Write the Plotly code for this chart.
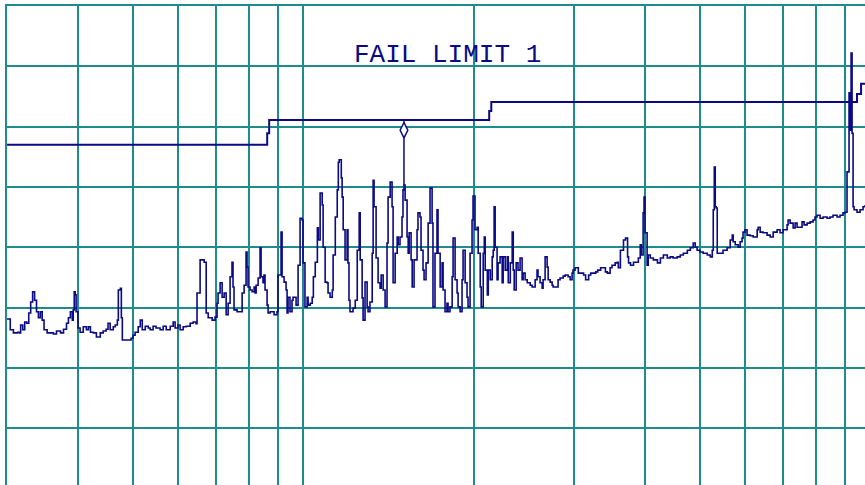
import plotly.graph_objects as go

freq_mhz = [
    30.0, 30.40, 30.79, 31.32, 31.58, 31.71, 31.98, 32.24, 32.50, 32.77, 33.03, 33.29, 33.56, 33.82,
    34.08, 34.35, 34.61, 34.87, 35.31, 35.77, 36.22, 36.68, 37.29, 37.74, 38.20, 38.50, 38.81, 39.11,
    39.26, 39.42, 39.57, 39.72, 40.03, 40.37, 40.89, 41.41, 41.75, 42.10, 42.61, 43.13, 43.82, 44.34,
    44.86, 45.22, 45.61, 46.19, 46.57, 46.96, 47.15, 47.54, 47.73, 47.92, 48.50, 49.08, 49.66, 50.04,
    50.47, 51.11, 51.54, 51.96, 52.60, 53.24, 53.66, 54.30, 54.94, 55.87, 56.57, 57.27, 58.21, 58.91,
    59.37, 60.08, 60.59, 61.35, 62.11, 63.12, 63.88, 64.64,
    64.90, 65.72, 66.81, 67.36, 67.91, 69.01, 69.83, 70.40, 70.69, 71.28, 71.87, 72.46, 73.05, 73.64,
    74.23, 74.81, 75.12, 75.43, 76.37, 77.32, 77.95, 78.58, 79.21, 79.52, 79.84, 80.50, 81.17, 81.84,
    82.17, 82.51, 83.18, 83.84, 84.18, 84.85, 85.20, 85.55, 86.26, 86.62, 87.33, 88.75, 89.81, 90.18,
    91.30, 91.68, 92.43, 93.18, 93.56, 93.93, 94.68, 95.46, 95.85, 97.04, 97.83, 98.63, 99.42, 99.82,
    100.6, 101.5, 101.9, 102.8, 103.6, 104.1, 104.9, 105.8, 106.2, 107.0, 107.9, 108.3, 109.2, 110.0,
    110.5, 111.4, 112.4, 112.8, 113.8, 114.7, 115.2,
    115.6, 116.6, 117.0, 117.5, 118.4, 119.4, 119.8, 120.3, 120.8, 122.3, 123.4, 124.4, 125.4, 125.9,
    126.9, 127.4, 128.4, 129.5, 130.0, 131.0, 132.2, 132.7, 133.2, 134.3, 135.4, 136.5, 137.1, 138.2,
    139.3, 140.4, 141.0, 142.2, 143.3, 143.9, 145.1, 146.3, 146.9, 148.0, 149.2, 149.8, 150.4, 151.1,
    152.3, 153.0, 153.6, 154.8, 155.5, 156.7, 158.6, 159.2, 160.5, 161.2, 162.5, 163.2, 164.5, 165.9,
    167.2, 168.6, 169.2, 170.6, 172.0, 172.7, 174.2, 175.6, 176.3, 177.7, 179.1, 179.9, 181.3, 182.9,
    183.6, 185.1, 186.6, 187.4, 188.9, 190.4, 191.2, 192.8, 194.3, 195.1,
    196.7, 198.3, 199.1, 200.7, 202.4, 203.3, 205.0, 205.8, 207.5, 208.4, 209.2, 211.0, 211.8, 213.5,
    215.2, 216.1, 216.9, 217.8, 219.5, 220.4, 222.2, 224.1, 225.0, 226.9, 228.8, 229.7, 231.6, 233.4,
    234.4, 235.3, 237.2, 239.0, 241.0, 243.0, 244.0, 246.0, 248.1, 251.1, 253.1, 256.2, 258.2, 259.2,
    261.4, 263.6, 264.6, 266.8, 269.0, 270.1, 272.3, 274.5, 275.6, 280.0, 281.2, 283.5, 287.1, 289.4,
    292.9, 295.3, 297.7, 298.8, 301.3, 305.3, 311.9, 314.5, 318.4, 321.1, 327.7, 330.3, 334.3, 340.8,
    343.5, 347.4, 350.1, 354.6, 357.7, 359.2, 362.2, 366.8, 369.8, 372.9, 374.4, 377.4, 382.0, 388.1,
    389.6, 392.6, 394.2, 397.2, 398.7, 400.3, 403.7, 405.5, 408.9, 414.1, 421.0, 426.1, 431.3, 438.2,
    443.4, 448.6, 456.1, 461.9, 467.7, 475.4, 481.1, 486.9, 490.8, 494.6, 500.5, 506.8, 515.4, 521.8,
    526.0, 528.1, 530.3, 532.4, 534.5, 536.7, 543.1, 549.5, 558.7, 565.7, 570.4, 572.7, 577.4, 584.4,
    589.0, 593.7, 596.0, 600.7, 605.8, 613.4, 621.1, 631.2, 633.8, 638.9, 646.5, 657.1, 665.4, 673.6,
    684.5, 692.7, 701.0, 712.8, 715.7, 721.6, 730.5, 736.4, 742.2, 751.2, 757.4, 763.7, 773.2, 782.6,
    792.0, 798.3, 804.9, 814.9, 825.0, 838.4, 848.5, 859.0, 873.2, 883.8, 894.5, 901.7, 905.4, 909.2,
    913.0, 916.7, 920.5, 924.3, 928.0, 931.8, 935.5, 946.8, 958.6, 970.4, 978.4,
]

level_db = [
    28.1, 26.3, 25.8, 25.9, 25.8, 27.1, 26.3, 27.6, 27.4, 29.1, 30.9, 32.6, 31.2, 29.3,
    28.3, 29.3, 27.9, 26.3, 25.8, 25.8, 25.6, 26.1, 25.8, 26.4, 27.4, 28.3, 29.3, 27.9,
    29.6, 32.6, 32.1, 29.3, 26.6, 25.9, 26.8, 26.3, 26.8, 25.9, 25.8, 25.1, 25.8, 26.1,
    26.4, 27.4, 26.3, 26.8, 27.1, 27.9, 32.9, 33.2, 28.3, 24.6, 24.6, 24.6, 24.9, 25.4,
    25.9, 26.8, 27.9, 26.3, 26.9, 26.6, 26.3, 26.9, 26.6, 26.3, 26.9, 26.3, 26.9, 27.6,
    26.6, 27.1, 26.3, 26.8, 26.9, 27.4, 27.6, 27.3,
    32.4, 37.9, 37.5, 29.1, 28.3, 27.9, 28.4, 30.7, 32.4, 34.1, 31.7, 32.4, 28.8, 30.7,
    35.1, 37.5, 33.4, 29.6, 29.3, 29.3, 32.4, 33.7, 39.2, 36.7, 33.4, 32.9, 32.6, 33.4,
    32.4, 33.7, 34.9, 39.9, 35.1, 34.1, 35.4, 32.9, 30.4, 29.1, 29.3, 28.8, 29.3, 35.4,
    42.5, 35.1, 34.2, 32.9, 29.1, 31.7, 29.3, 31.2, 31.7, 30.4, 37.0, 44.8, 44.5, 37.4,
    30.1, 31.7, 30.4, 30.7, 31.7, 35.1, 37.5, 43.2, 41.2, 49.0, 47.0, 40.0, 34.2, 34.1,
    32.4, 31.7, 32.9, 38.7, 45.0, 49.5, 54.1,
    54.5, 51.5, 48.3, 42.9, 37.9, 42.9, 37.4, 31.2, 29.3, 29.9, 31.2, 39.5, 45.7, 37.9,
    31.6, 27.9, 34.2, 30.1, 29.3, 30.9, 39.0, 51.1, 46.7, 38.2, 34.1, 33.2, 35.4, 32.9,
    30.1, 40.7, 48.3, 50.8, 46.7, 34.1, 39.0, 41.7, 40.4, 41.7, 45.0, 49.5, 50.3, 47.8,
    41.7, 39.0, 42.4, 37.9, 33.4, 37.9, 42.9, 45.7, 45.0, 39.5, 36.2, 34.6, 37.4, 44.0,
    49.8, 44.0, 30.1, 39.0, 46.2, 39.0, 33.4, 37.4, 32.9, 29.3, 30.7, 29.3, 30.1, 35.1,
    41.5, 34.6, 32.4, 30.1, 29.3, 34.6, 39.5, 34.1, 31.7, 30.1,
    39.0, 44.5, 48.5, 42.9, 43.3, 39.0, 33.4, 30.1, 39.0, 41.7, 36.2, 32.1, 36.2, 34.6,
    38.4, 39.5, 46.7, 40.0, 34.6, 37.4, 38.4, 34.1, 38.4, 36.2, 38.4, 34.1, 37.4, 42.5,
    36.2, 32.9, 37.4, 36.2, 38.2, 34.6, 35.7, 34.6, 34.1, 33.7, 33.4, 34.6, 36.2, 35.1,
    34.1, 33.2, 34.6, 38.4, 36.7, 34.6, 34.2, 33.7, 33.4, 33.4, 34.6, 34.9, 35.2, 35.4,
    35.1, 34.6, 35.7, 36.2, 36.6, 35.7, 35.4, 34.6, 35.4, 35.7, 35.9, 36.2, 36.6, 35.9,
    35.7, 36.6, 37.0, 37.4, 37.5, 36.6, 39.5, 41.2, 41.5, 38.4, 37.4, 37.0, 37.5, 37.5,
    38.2, 40.4, 38.7, 45.7, 48.3, 42.4, 37.0, 38.7, 38.2, 37.9, 37.4, 38.2, 38.7, 38.2,
    38.4, 38.2, 38.4, 38.7, 39.0, 39.5, 39.9, 40.7, 40.0, 39.5, 39.2, 39.0, 38.7, 38.4,
    39.5, 46.2, 53.3, 46.7, 46.5, 39.0, 39.0, 39.5, 39.9, 41.2, 42.0, 40.9, 40.4, 40.0,
    40.9, 41.5, 42.5, 42.9, 42.0, 41.9, 41.7, 42.9, 43.3, 42.5, 42.4, 42.0, 41.7, 42.5,
    42.9, 42.4, 42.9, 43.7, 44.5, 44.0, 43.2, 44.0, 43.3, 43.3, 44.2, 43.7, 44.0, 44.2,
    44.5, 45.0, 45.3, 44.8, 45.0, 44.8, 45.0, 45.3, 45.0, 45.3, 45.7, 45.8, 45.8, 52.5,
    52.5, 65.6, 59.4, 72.2, 58.9, 46.7, 46.2, 45.8, 46.2, 46.7, 47.0,
]

# Limit line (stepped)
limit_freq = [30.0, 86.3, 87.0, 212.6, 214.4, 946.8, 962.5, 978.4]
limit_db = [57.0, 58.9, 61.1, 62.6, 64.1, 65.4, 67.1, 67.1]

# Marker on the worst-case peak
marker_freq = 150.4
marker_peak_db = 50.3
marker_limit_db = 61.1
marker_symbol_db = 59.4
label_text = "FAIL LIMIT 1"

# Grid frequencies / levels
grid_freq = [40, 50, 60, 70, 80, 90, 100, 200, 300, 400, 500, 600, 700, 800, 900]
grid_db = [10, 20, 30, 40, 50, 60, 70]

NAVY = "#0a0a84"
GRID = "#1e8c8c"

fig = go.Figure()
fig.add_trace(go.Scatter(x=freq_mhz, y=level_db, mode="lines",
                         line=dict(color=NAVY, width=1.6, shape="hv"),
                         hoverinfo="skip", showlegend=False, cliponaxis=True))
fig.add_trace(go.Scatter(x=limit_freq, y=limit_db, mode="lines",
                         line=dict(color=NAVY, width=2, shape="hv"),
                         hoverinfo="skip", showlegend=False))
fig.add_trace(go.Scatter(x=[marker_freq, marker_freq], y=[marker_limit_db, marker_peak_db],
                         mode="lines", line=dict(color=NAVY, width=1.5),
                         hoverinfo="skip", showlegend=False))
fig.add_trace(go.Scatter(x=[marker_freq], y=[marker_symbol_db], mode="markers",
                         marker=dict(symbol="diamond-tall", size=11, color="white",
                                     line=dict(color=NAVY, width=1.5)),
                         hoverinfo="skip", showlegend=False))

fig.add_annotation(text=label_text, xref="paper", yref="paper", x=0.5134, y=0.8977,
                   showarrow=False, xanchor="center", yanchor="middle",
                   font=dict(family="Liberation Mono", size=26, color=NAVY))

fig.update_layout(
    width=865, height=485,
    margin=dict(l=7, r=0, t=6, b=0),
    paper_bgcolor="white", plot_bgcolor="white",
    xaxis=dict(type="log", range=[1.477121, 2.990349], tickvals=grid_freq, side="top",
               showticklabels=False, ticks="", showgrid=True, gridcolor=GRID,
               gridwidth=2, zeroline=False, showline=True, linecolor=GRID, linewidth=2),
    yaxis=dict(range=[0.564, 80.0], tickvals=grid_db, showticklabels=False,
               ticks="", showgrid=True, gridcolor=GRID, gridwidth=2,
               zeroline=False, showline=True, linecolor=GRID, linewidth=2),
)

fig.write_html("out.html", config={"displayModeBar": False},
               post_script="document.body.style.margin='0';document.body.style.overflow='hidden';")
